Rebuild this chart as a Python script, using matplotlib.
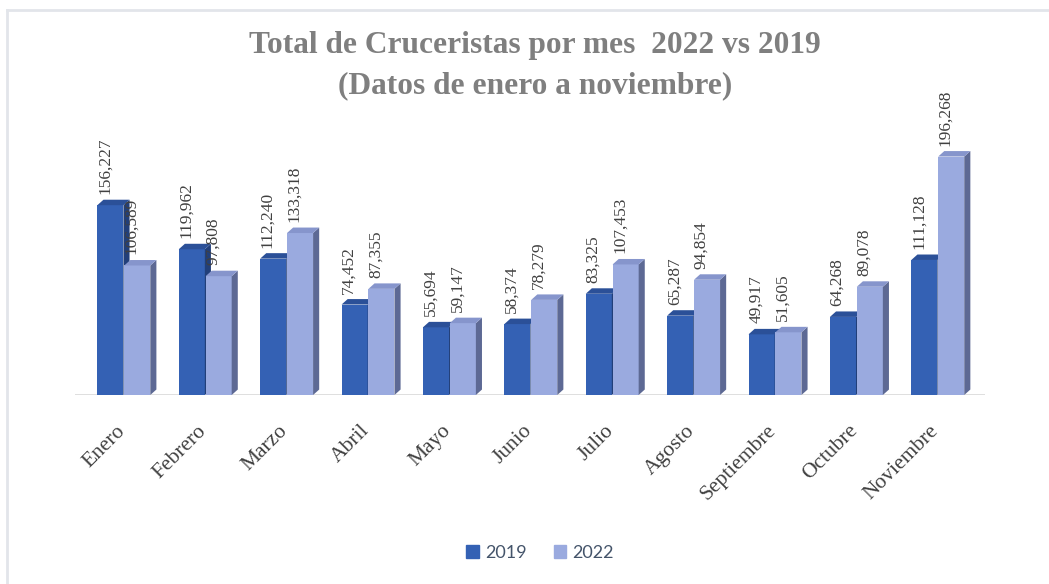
import matplotlib.pyplot as plt
from matplotlib.patches import Polygon
from matplotlib.lines import Line2D
import numpy as np

# ------------------------------------------------------------------ #
#                          the chart data                            #
# ------------------------------------------------------------------ #

meses = ['Enero', 'Febrero', 'Marzo', 'Abril', 'Mayo', 'Junio', 'Julio',
         'Agosto', 'Septiembre', 'Octubre', 'Noviembre']
v2019 = [156227, 119962, 112240, 74452, 55694, 58374, 83325,
         65287, 49917, 64268, 111128]
v2022 = [106589, 97808, 133318, 87355, 59147, 78279, 107453,
         94854, 51605, 89078, 196268]

W, H = 1049, 584
fig = plt.figure(figsize=(W / 100, H / 100), dpi=100)

# axes placed in pixel terms: baseline at y=395, plot spans x 75..985
ymax = 275000.
px_per_unit = 0.001215
ax_h = ymax * px_per_unit
ax = fig.add_axes([75 / W, 1 - 395 / H, 910 / W, ax_h / H])
ax.set_xlim(-0.6, 10.58)
ax.set_ylim(0, ymax)
ax.axis('off')

# light frame around the chart (left and top edges)
fig.add_artist(Line2D([7 / W, 7 / W], [0, 1 - 10 / H], color='#e2e5ea', lw=2))
fig.add_artist(Line2D([7 / W, 1], [1 - 10 / H, 1 - 10 / H], color='#e2e5ea', lw=2))

# baseline
ax.plot([-0.6, 10.58], [0, 0], color='#d9d9d9', lw=1.2, zorder=1)

x = np.arange(len(meses))
width = 0.32
dx = 0.075      # depth of the fake 3d in x (data units)
dy = 4500.      # depth of the fake 3d in y (data units)

series = [
    (x - 0.165, v2019, '#3461b4', '#223f79', '#2b5098', '2019'),
    (x + 0.165, v2022, '#9aaadf', '#5d6994', '#8695cc', '2022'),
]

for xs, vals, front, side, top, lab in series:
    ax.bar(xs, vals, width=width, color=front, edgecolor='none', zorder=3)
    for xc, h in zip(xs, vals):
        x0, x1 = xc - width / 2, xc + width / 2
        ax.add_patch(Polygon([(x1, 0), (x1 + dx, dy), (x1 + dx, h + dy), (x1, h)],
                             closed=True, facecolor=side, edgecolor='none', zorder=3))
        ax.add_patch(Polygon([(x0, h), (x0 + dx, h + dy), (x1 + dx, h + dy), (x1, h)],
                             closed=True, facecolor=top, edgecolor='none', zorder=3))
        ax.annotate(f'{h:,}', (xc - 0.07, h + dy), xytext=(0, 4),
                    textcoords='offset points', rotation=90, ha='center', va='bottom',
                    fontsize=12.5, family='Liberation Serif', color='#404040', zorder=5)

# rotated month labels
for xc, m in zip(x, meses):
    ax.annotate(m, (xc, 0), xytext=(-6, -19), textcoords='offset points',
                rotation=45, ha='right', va='top', rotation_mode='anchor',
                fontsize=15.5, family='Liberation Serif', color='#404040',
                annotation_clip=False)

# title
fig.text(535 / W, 1 - 66 / H,
         'Total de Cruceristas por mes  2022 vs 2019\n(Datos de enero a noviembre)',
         ha='center', va='center', fontsize=22.6, fontweight='bold',
         family='Liberation Serif', color='#7f7f7f', linespacing=1.5)

# legend
handles = [plt.Rectangle((0, 0), 1, 1, color='#3461b4'),
           plt.Rectangle((0, 0), 1, 1, color='#9aaadf')]
fig.legend(handles, ['2019', '2022'], loc='center', bbox_to_anchor=(540 / W, 1 - 553 / H),
           ncol=2, frameon=False, handlelength=0.7, handleheight=0.7,
           handletextpad=0.35, columnspacing=1.5,
           prop={'family': 'Lato', 'size': 13}, labelcolor='#44546a')

plt.savefig('out.png', dpi=100)
plt.close()
